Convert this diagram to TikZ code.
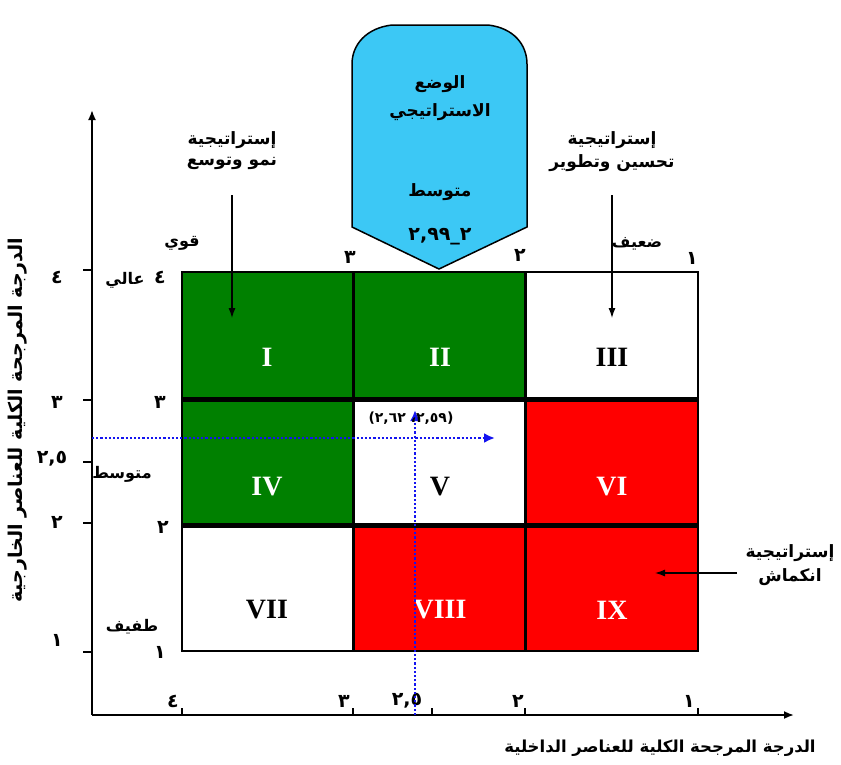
\documentclass[tikz,border=0pt]{standalone}
\usepackage{fontspec}
\setmainfont{Liberation Serif}
\newfontfamily\arfont[Script=Arabic]{DejaVu Sans}
\TeXXeTstate=1
\usetikzlibrary{arrows.meta}
\newcommand{\AR}[1]{{\arfont\bfseries\beginR #1\endR}}
\newcommand{\NUM}[1]{{\arfont\bfseries #1}}
\definecolor{cgreen}{RGB}{0,128,0}
\definecolor{cred}{RGB}{255,0,0}
\definecolor{ccyan}{RGB}{60,200,245}
\definecolor{cblue}{RGB}{20,20,240}
\begin{document}
\begin{tikzpicture}[x=1pt,y=-1pt,
  lbl/.style={inner sep=0pt,font=\fontsize{16}{18}\selectfont},
  biglbl/.style={inner sep=0pt,font=\fontsize{17}{19}\selectfont},
  numlbl/.style={inner sep=0pt,font=\fontsize{19}{21}\selectfont},
  roman/.style={inner sep=0pt,font=\fontsize{28}{30}\selectfont\bfseries},
  axisline/.style={line width=1.8pt,-{Latex[length=10pt,width=8pt]}},
  stratarrow/.style={line width=1.2pt,-{Latex[length=10pt,width=7pt]}},
  bluedot/.style={cblue,line width=2.2pt,dotted,-{Latex[length=11pt,width=10pt]}}]
\useasboundingbox[fill=white] (0,0) rectangle (841,764);

% cells
\fill[cgreen] (182,272) rectangle (353,399);
\fill[cgreen] (353,272) rectangle (525,399);
\fill[white] (525,272) rectangle (698,399);
\fill[cgreen] (182,399) rectangle (353,525);
\fill[white] (353,399) rectangle (525,525);
\fill[cred] (525,399) rectangle (698,525);
\fill[white] (182,525) rectangle (353,651);
\fill[cred] (353,525) rectangle (525,651);
\fill[cred] (525,525) rectangle (698,651);
\draw[line width=2pt] (182,272) rectangle (698,651);
\draw[line width=3pt] (353,272) -- (353,651);
\draw[line width=3pt] (525,272) -- (525,651);
\draw[line width=5pt] (182,399) -- (698,399);
\draw[line width=5pt] (182,525) -- (698,525);

\node[roman,text=white] (r1) at (267,357) {I};
\node[roman,text=white] (r2) at (440,357) {II};
\node[roman] (r3) at (612,357) {III};
\node[roman,text=white] (r4) at (267,487) {IV};
\node[roman] (r5) at (440,487) {V};
\node[roman,text=white] (r6) at (612,487) {VI};
\node[roman] (r7) at (267,610) {VII};
\node[roman,text=white] (r8) at (440,610) {VIII};
\node[roman,text=white] (r9) at (612,610) {IX};

% axes
\coordinate (o) at (92,715);
\coordinate (ytop) at (92,110);
\coordinate (xend) at (794,715);
\draw[axisline] (o) -- (ytop);
\draw[axisline] (o) -- (xend);

% y ticks
\foreach \yy in {270,400,462,523,652} \draw[line width=1.5pt] (83,\yy) -- (92,\yy);
\node[numlbl] (ya) at (57,277) {\NUM{٤}};
\node[numlbl] (yb) at (57,402) {\NUM{٣}};
\node[numlbl] (yc) at (52,459) {\NUM{٢,٥}};
\node[numlbl] (yd) at (57,522) {\NUM{٢}};
\node[numlbl] (ye) at (57,640) {\NUM{١}};

% x ticks
\foreach \xx in {182,353,432,525,698} \draw[line width=1.2pt] (\xx,715) -- (\xx,708);
\node[numlbl] (xa) at (173,701) {\NUM{٤}};
\node[numlbl] (xb) at (344,701) {\NUM{٣}};
\node[numlbl] (xc) at (407,701) {\NUM{٢,٥}};
\node[numlbl] (xd) at (518,701) {\NUM{٢}};
\node[numlbl] (xe) at (689,701) {\NUM{١}};

% inner labels
\node[numlbl] (i4) at (160,277) {\NUM{٤}};
\node[lbl] (high) at (125,280) {\AR{عالي}};
\node[lbl] (strong) at (182,243) {\AR{قوي}};
\node[numlbl] (i3) at (160,402) {\NUM{٣}};
\node[lbl] (mid) at (122,474) {\AR{متوسط}};
\node[numlbl] (i2) at (163,527) {\NUM{٢}};
\node[lbl] (low) at (132,627) {\AR{طفيف}};
\node[numlbl] (i1) at (160,652) {\NUM{١}};
\node[numlbl] (t3) at (350,257) {\NUM{٣}};
\node[numlbl] (t2) at (520,255) {\NUM{٢}};
\node[numlbl] (t1) at (692,258) {\NUM{١}};
\node[lbl] (weak) at (637,244) {\AR{ضعيف}};

% axis titles
\node[inner sep=0pt,rotate=90,font=\fontsize{19}{21}\selectfont] (ytitle) at (18,420) {\AR{الدرجة المرجحة الكلية للعناصر الخارجية}};
\node[inner sep=0pt,font=\fontsize{16.5}{18}\selectfont] (xtitle) at (660,748) {\AR{الدرجة المرجحة الكلية للعناصر الداخلية}};

% top badge
\draw[fill=ccyan,line width=1.5pt] (352,227) -- (352,64) .. controls (352,45) and (366,28) .. (392,25) -- (488,25) .. controls (514,28) and (527,45) .. (527,64) -- (527,227) -- (439,269) -- cycle;
\node[biglbl] (b1) at (440,84) {\AR{الوضع}};
\node[biglbl] (b2) at (440,112) {\AR{الاستراتيجي}};
\node[biglbl] (b3) at (440,192) {\AR{متوسط}};
\node[inner sep=0pt,font=\fontsize{19}{21}\selectfont] (b4) at (440,237) {\AR{٢\_٢,٩٩}};

% strategies
\node[biglbl] (s1a) at (232,140) {\AR{إستراتيجية}};
\node[biglbl] (s1b) at (232,163) {\AR{نمو وتوسع}};
\coordinate (s1s) at (232,195);
\coordinate (s1e) at (232,318);
\draw[stratarrow] (s1s) -- (s1e);
\node[biglbl] (s2a) at (612,140) {\AR{إستراتيجية}};
\node[biglbl] (s2b) at (612,163) {\AR{تحسين وتطوير}};
\coordinate (s2s) at (612,195);
\coordinate (s2e) at (612,318);
\draw[stratarrow] (s2s) -- (s2e);
\node[biglbl] (s3a) at (790,553) {\AR{إستراتيجية}};
\node[biglbl] (s3b) at (790,577) {\AR{انكماش}};
\coordinate (s3s) at (737,573);
\coordinate (s3e) at (655,573);
\draw[stratarrow] (s3s) -- (s3e);

% point
\coordinate (hs) at (92,438);
\coordinate (he) at (495,438);
\coordinate (vs) at (415,715);
\coordinate (ve) at (415,410);
\draw[bluedot] (hs) -- (he);
\draw[bluedot] (vs) -- (ve);
\node[inner sep=0pt,font=\fontsize{14}{15}\selectfont] (pt) at (411,418) {\AR{(٢,٥٩، ٢,٦٢)}};
\end{tikzpicture}
\end{document}
